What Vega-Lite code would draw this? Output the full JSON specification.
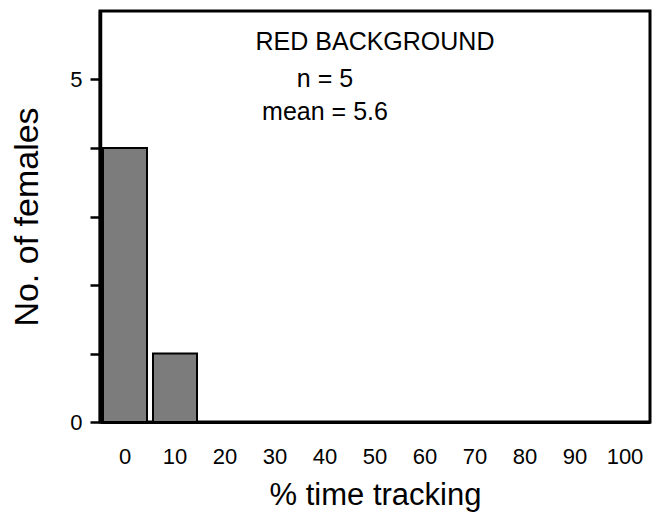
{
  "$schema": "https://vega.github.io/schema/vega-lite/v6.json",
  "width": 550,
  "height": 411,
  "autosize": "none",
  "padding": {"left": 100, "top": 11, "right": 2, "bottom": 90},
  "background": "white",
  "config": {
    "font": "Liberation Sans",
    "view": {"stroke": "black", "strokeWidth": 3},
    "axis": {"grid": false, "domainColor": "black", "tickColor": "black", "labelColor": "black", "titleColor": "black", "labelFont": "Liberation Sans", "titleFont": "Liberation Sans"}
  },
  "datasets": {
    "bars": [
      {"pct": "0", "females": 4},
      {"pct": "10", "females": 1},
      {"pct": "20", "females": 0},
      {"pct": "30", "females": 0},
      {"pct": "40", "females": 0},
      {"pct": "50", "females": 0},
      {"pct": "60", "females": 0},
      {"pct": "70", "females": 0},
      {"pct": "80", "females": 0},
      {"pct": "90", "females": 0},
      {"pct": "100", "females": 0}
    ],
    "notes": [
      {"label": "RED BACKGROUND", "pct": "50", "females": 5.43},
      {"label": "n = 5", "pct": "40", "females": 4.89},
      {"label": "mean = 5.6", "pct": "40", "females": 4.41}
    ]
  },
  "layer": [
    {
      "data": {"name": "bars"},
      "mark": {"type": "bar", "fill": "#7c7c7c", "stroke": "black", "strokeWidth": 2},
      "encoding": {
        "x": {
          "field": "pct", "type": "ordinal", "sort": null,
          "scale": {"domain": ["0","10","20","30","40","50","60","70","80","90","100"], "paddingInner": 0.12, "paddingOuter": 0.06},
          "axis": {"title": "% time tracking", "titleFontSize": 31, "titleFontWeight": "normal", "titlePadding": 13, "labelFontSize": 22, "labelAngle": 0, "labelPadding": 24, "ticks": false, "domainWidth": 3}
        },
        "y": {
          "field": "females", "type": "quantitative",
          "scale": {"domain": [0, 6], "nice": false},
          "axis": {"title": "No. of females", "titleFontSize": 34, "titleFontWeight": "normal", "titlePadding": 25, "labelFontSize": 22, "labelPadding": 8, "tickSize": 10, "tickWidth": 2.5, "domainWidth": 3.5, "values": [0,1,2,3,4,5], "format": "d", "labelExpr": "datum.value % 5 === 0 ? datum.label : ''"}
        }
      }
    },
    {
      "data": {"name": "notes"},
      "mark": {"type": "text", "fontSize": 25, "baseline": "alphabetic", "align": "center", "color": "black"},
      "encoding": {
        "x": {"field": "pct", "type": "ordinal", "sort": null},
        "y": {"field": "females", "type": "quantitative"},
        "text": {"field": "label"}
      }
    }
  ]
}
